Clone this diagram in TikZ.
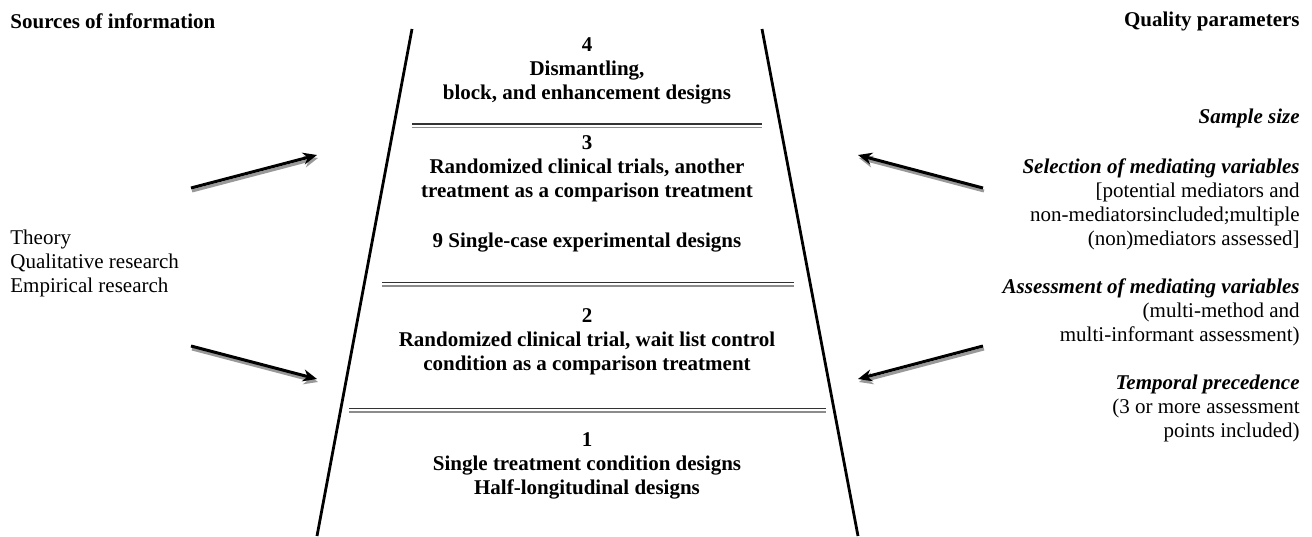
\documentclass[tikz,border=0pt]{standalone}
\usepackage{fontspec}
\setmainfont{Liberation Serif}
\usetikzlibrary{arrows.meta}
\tikzset{
  wallS/.style  ={black, line width=1.4pt},
  sepTopS/.style={black!80, line width=0.8pt},
  sepBotS/.style={black!45, line width=0.7pt},
  arrS/.style   ={black, line width=1.5pt, -{Stealth[length=7pt,width=6pt]}},
  arrShS/.style ={black!40, line width=1.5pt, -{Stealth[length=7pt,width=6pt]}},
  level/.style  ={font=\fontsize{10.5}{12}\selectfont\bfseries, align=center, inner sep=0pt},
  srcT/.style   ={font=\fontsize{10.5}{12}\selectfont, align=left, anchor=west, inner sep=0pt},
  qualT/.style  ={font=\fontsize{10.5}{12}\selectfont, align=right, anchor=east, inner sep=0pt},
  headT/.style  ={font=\fontsize{10.5}{12}\selectfont\bfseries, inner sep=0pt},
}
\newcommand{\param}[1]{{\bfseries\itshape #1}}

\begin{document}
\begin{tikzpicture}[x=0.5pt, y=-0.5pt]
  \useasboundingbox (0,0) rectangle (1312,536);
  % the funnel
  \coordinate (tl) at (412,29);  \coordinate (bl) at (317,536);
  \coordinate (tr) at (762,29);  \coordinate (br) at (858,536);
  \draw[wallS] (tl) -- (bl);
  \draw[wallS] (tr) -- (br);
  % separators between the levels
  \draw[sepTopS] (412,124) -- (762,124);  \draw[sepBotS] (412,127.5) -- (762,127.5);
  \draw[sepTopS] (382,282.5) -- (794,282.5);  \draw[sepBotS] (382,286) -- (794,286);
  \draw[sepTopS] (349,408.5) -- (826,408.5);  \draw[sepBotS] (349,412) -- (826,412);
  % levels
  \node[level] (lev4) at (587,71)  {4\\Dismantling,\\block, and enhancement designs};
  \node[level] (lev3) at (587,169) {3\\Randomized clinical trials, another\\treatment as a comparison treatment};
  \node[level] (lev3b) at (587,243) {9 Single-case experimental designs};
  \node[level] (lev2) at (587,342) {2\\Randomized clinical trial, wait list control\\condition as a comparison treatment};
  \node[level] (lev1) at (587,466) {1\\Single treatment condition designs\\Half-longitudinal designs};
  % headings
  \node[headT, anchor=west] (srcHead) at (10,21) {Sources of information};
  \node[headT, anchor=east] (qualHead) at (1300,21) {Quality parameters};
  % sources
  \node[srcT] (sources) at (10,263) {Theory\\Qualitative research\\Empirical research};
  % quality parameters
  \node[qualT] (qSize) at (1300,118) {\param{Sample size}};
  \node[qualT] (qSel) at (1300,204) {\param{Selection of mediating variables}\\{}[potential mediators and\\non-mediatorsincluded;multiple\\(non)mediators assessed]};
  \node[qualT] (qAss) at (1300,312) {\param{Assessment of mediating variables}\\(multi-method and\\multi-informant assessment)};
  \node[qualT] (qTemp) at (1300,408) {\param{Temporal precedence}\\(3 or more assessment\\points included)};
  % arrows into the funnel
  \coordinate (lUpT) at (191,188);  \coordinate (lUpH) at (317,155);
  \coordinate (lLoT) at (191,346);  \coordinate (lLoH) at (317,379);
  \coordinate (rUpT) at (983,188);  \coordinate (rUpH) at (858,155);
  \coordinate (rLoT) at (983,346);  \coordinate (rLoH) at (858,379);
  \foreach \t/\h in {lUpT/lUpH, lLoT/lLoH, rUpT/rUpH, rLoT/rLoH}{
    \draw[arrShS] ([shift={(1,3)}]\t) -- ([shift={(1,3)}]\h);
    \draw[arrS] (\t) -- (\h);
  }
\end{tikzpicture}
\end{document}
